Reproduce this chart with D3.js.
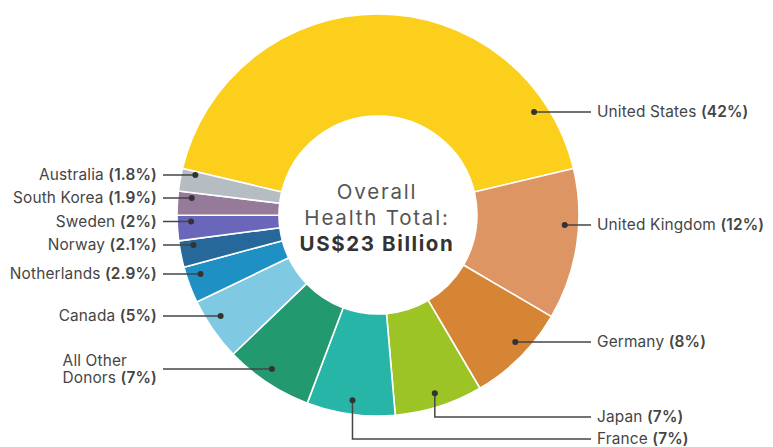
<!DOCTYPE html>
<html>
<head>
<meta charset="utf-8">
<script src="https://cdn.jsdelivr.net/npm/d3@7/dist/d3.min.js"></script>
<style>
  html, body { margin: 0; padding: 0; background: #ffffff; }
  svg { display: block; }
  text { font-family: Inter, "Open Sans", sans-serif; }
</style>
</head>
<body>
<svg id="chart" width="773" height="447"></svg>
<script>
// ---- data ----
const donors = ["United States", "United Kingdom", "Germany", "Japan", "France",
  "All Other Donors", "Canada", "Notherlands", "Norway", "Sweden", "South Korea", "Australia"];
const shares = [42, 12, 8, 7, 7, 7, 5, 2.9, 2.1, 2, 1.9, 1.8];
const percentLabels = ["42%", "12%", "8%", "7%", "7%", "7%", "5%", "2.9%", "2.1%", "2%", "1.9%", "1.8%"];
const centerLines = ["Overall", "Health Total:", "US$23 Billion"];

// ---- styling / layout (not data) ----
const colors = ["#FBCF1B", "#DD9563", "#D68535", "#9CC425", "#27B5A7", "#22996F",
  "#7FC9E2", "#1F90C4", "#27689B", "#6A67BA", "#957A99", "#B5BCC2"];
const layout = {
  "United States":   {side: "r", y: 112},
  "United Kingdom":  {side: "r", y: 225},
  "Germany":         {side: "r", y: 342},
  "Japan":           {side: "r", y: 417, elbow: true},
  "France":          {side: "r", y: 439, elbow: true},
  "All Other Donors":{side: "l", y: 369, two: ["All Other", "Donors "]},
  "Canada":          {side: "l", y: 316},
  "Notherlands":     {side: "l", y: 274},
  "Norway":          {side: "l", y: 245},
  "Sweden":          {side: "l", y: 221.5},
  "South Korea":     {side: "l", y: 198},
  "Australia":       {side: "l", y: 175}
};

const W = 773, H = 447;
const cx = 378, cy = 215;
const outerR = 201, innerR = 99, dotR = 187;
const rightLineEnd = 591, rightTextX = 597;
const leftLineStart = 163, leftTextX = 157;
const labelColor = "#454545";
const fontSize = 15.4;
const labelSpacing = 0.15;

const svg = d3.select("#chart");
const g = svg.append("g").attr("transform", `translate(${cx},${cy})`);

const rows = donors.map((d, i) => ({name: d, value: shares[i], pct: percentLabels[i], color: colors[i]}));
const total = d3.sum(shares);
const usAngle = shares[0] / total * 2 * Math.PI;

const pie = d3.pie().sort(null).value(d => d.value)
  .startAngle(-usAngle / 2).endAngle(2 * Math.PI - usAngle / 2);
const arcs = pie(rows);
const arc = d3.arc().innerRadius(innerR).outerRadius(outerR);

g.selectAll("path.slice").data(arcs).enter().append("path")
  .attr("class", "slice")
  .attr("d", arc)
  .attr("fill", d => d.data.color)
  .attr("stroke", "#ffffff")
  .attr("stroke-width", 1.6)
  .attr("stroke-linejoin", "round");

// center text
const cAttrs = [[199, "#555555", 400, 1.8], [224.5, "#555555", 400, 1.8], [250.5, "#333333", 700, 1.6]];
centerLines.forEach((s, i) => {
  svg.append("text").attr("x", cx - 1).attr("y", cAttrs[i][0])
    .attr("text-anchor", "middle").attr("font-size", 20.5)
    .attr("letter-spacing", cAttrs[i][3])
    .attr("fill", cAttrs[i][1]).attr("font-weight", cAttrs[i][2]).text(s);
});

// leaders + labels
const lab = svg.append("g");
arcs.forEach(a => {
  const L = layout[a.data.name];
  let dx, dy;
  if (L.elbow) {
    const ang = (a.startAngle + a.endAngle) / 2;
    dx = cx + dotR * Math.sin(ang);
    dy = cy - dotR * Math.cos(ang);
  } else {
    const yy = L.y - cy;
    const xx = Math.sqrt(Math.max(0, dotR * dotR - yy * yy));
    dx = cx + (L.side === "r" ? xx : -xx);
    dy = L.y;
  }
  let pts;
  if (L.elbow) pts = [[dx, dy], [dx, L.y], [rightLineEnd, L.y]];
  else if (L.side === "r") pts = [[dx, dy], [rightLineEnd, L.y]];
  else pts = [[dx, dy], [leftLineStart, L.y]];
  lab.append("path").attr("d", d3.line()(pts))
    .attr("fill", "none").attr("stroke", labelColor).attr("stroke-width", 1.5);
  lab.append("circle").attr("cx", dx).attr("cy", dy).attr("r", 3).attr("fill", "#333333");

  if (L.two) {
    const t2 = lab.append("text").attr("x", leftTextX).attr("y", L.y + 9)
      .attr("dy", "0.35em").attr("text-anchor", "end")
      .attr("font-size", fontSize).attr("letter-spacing", labelSpacing).attr("fill", labelColor);
    t2.append("tspan").text(L.two[1]);
    t2.append("tspan").attr("font-weight", 600).text(`(${a.data.pct})`);
    const x0 = leftTextX - t2.node().getComputedTextLength();
    lab.append("text").attr("x", x0).attr("y", L.y - 8.5).attr("dy", "0.35em")
      .attr("font-size", fontSize).attr("letter-spacing", labelSpacing)
      .attr("fill", labelColor).text(L.two[0]);
  } else {
    const t = lab.append("text")
      .attr("x", L.side === "r" ? rightTextX : leftTextX)
      .attr("y", L.y).attr("dy", "0.35em")
      .attr("text-anchor", L.side === "r" ? "start" : "end")
      .attr("font-size", fontSize).attr("letter-spacing", labelSpacing).attr("fill", labelColor);
    t.append("tspan").text(a.data.name + " ");
    t.append("tspan").attr("font-weight", 600).text(`(${a.data.pct})`);
  }
});
</script>
</body>
</html>
